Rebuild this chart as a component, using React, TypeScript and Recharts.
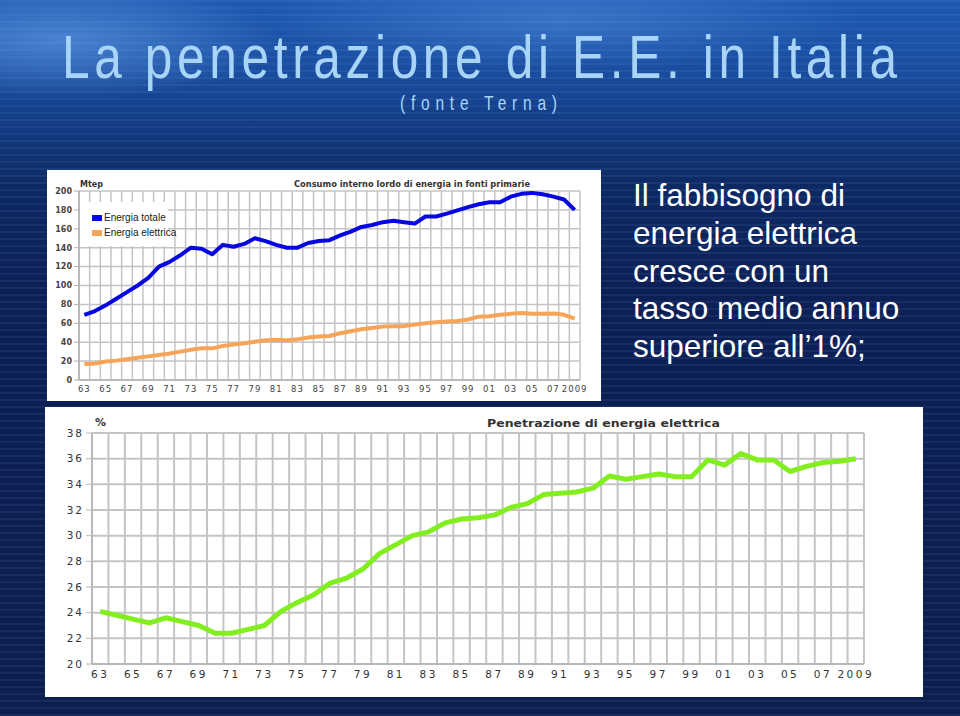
import { LineChart, Line, XAxis, YAxis, CartesianGrid, Legend } from 'recharts';

// anni 1963-2009
const years = [
  1963, 1964, 1965, 1966, 1967, 1968, 1969, 1970, 1971, 1972, 1973, 1974, 1975, 1976, 1977, 1978,
  1979, 1980, 1981, 1982, 1983, 1984, 1985, 1986, 1987, 1988, 1989, 1990, 1991, 1992, 1993, 1994,
  1995, 1996, 1997, 1998, 1999, 2000, 2001, 2002, 2003, 2004, 2005, 2006, 2007, 2008, 2009,
];
const labelYears = [
  1963, 1965, 1967, 1969, 1971, 1973, 1975, 1977, 1979, 1981, 1983, 1985, 1987, 1989, 1991, 1993,
  1995, 1997, 1999, 2001, 2003, 2005, 2007, 2009,
];

// Mtep
const energiaTotale = [
  69, 73, 79, 86, 93, 100, 108, 120, 125, 132, 140, 139, 133, 143, 141, 144, 150, 147, 143, 140,
  140, 145, 147, 148, 153, 157, 162, 164, 167, 168.5, 167, 165.5, 173, 173, 176, 179.5, 183, 186,
  188, 188, 194, 197, 198, 196.5, 194, 191, 180,
];
const energiaElettrica = [
  17, 17.5, 19.5, 20.5, 22, 23.5, 25, 26.5, 28, 30, 32, 33.5, 33.5, 36, 37.5, 39, 40.5, 42, 42.4,
  42, 43, 45, 46, 46.6, 49.5, 51.6, 53.7, 55, 56.5, 57, 57, 58.6, 60, 61, 62, 62.5, 64, 67, 67.5,
  69, 70, 71, 70, 70, 70.3, 69, 65,
];
// %
const penetrazione = [
  24.1, 23.8, 23.5, 23.2, 23.6, 23.3, 23.0, 22.4, 22.4, 22.7, 23.0, 24.1, 24.8, 25.4, 26.3, 26.7,
  27.4, 28.6, 29.3, 30.0, 30.3, 31.0, 31.3, 31.4, 31.6, 32.2, 32.5, 33.2, 33.3, 33.4, 33.7, 34.65,
  34.4, 34.6, 34.8, 34.6, 34.6, 35.9, 35.5, 36.4, 35.9, 35.9, 35.0, 35.4, 35.7, 35.8, 36.0,
];

const topYTicks = [0, 20, 40, 60, 80, 100, 120, 140, 160, 180, 200];
const bottomYTicks = [20, 22, 24, 26, 28, 30, 32, 34, 36, 38];
const legendOrder = ['Energia totale', 'Energia elettrica'];

const paragraph = [
  'Il fabbisogno di',
  'energia elettrica',
  'cresce con un',
  'tasso medio annuo',
  'superiore all\u20191%;',
];

const data = years.map((year, i) => ({
  year,
  totale: energiaTotale[i],
  elettrica: energiaElettrica[i],
  pen: penetrazione[i],
}));

// gridlines sit on the year boundaries, points in the middle
const gridTicks = years.map((y) => y - 0.5).concat([years[years.length - 1] + 0.5]);
const xDomain = [years[0] - 0.5, years[years.length - 1] + 0.5];

const fmtYear = (v: number) => (v === 2009 ? '2009' : String(v).slice(2));

const GRID = '#c4c4c4';
const TICK_FONT = '"DejaVu Sans", Verdana, sans-serif';
const NARROW = '"Liberation Sans Narrow", "Arial Narrow", "Liberation Sans", sans-serif';

const renderLegend = (props: any) => {
  const items = [...(props.payload || [])].sort(
    (a: any, b: any) => legendOrder.indexOf(a.value) - legendOrder.indexOf(b.value)
  );
  return (
    <div style={{ background: '#fff', width: 88, height: 44, boxSizing: 'border-box', padding: '8px 0 0 12px' }}>
      {items.map((e: any) => (
        <div key={e.value} style={{ display: 'flex', alignItems: 'center', height: 15 }}>
          <span style={{ width: 10, height: 6, background: e.color, marginRight: 2, flexShrink: 0 }} />
          <span style={{ fontFamily: NARROW, fontSize: 10, color: '#222', whiteSpace: 'nowrap' }}>{e.value}</span>
        </div>
      ))}
    </div>
  );
};

function TopChart() {
  return (
    <LineChart width={554} height={231} data={data} margin={{ top: 21, right: 21, left: 0, bottom: 0 }}>
      <CartesianGrid xAxisId="g" stroke={GRID} strokeWidth={1.5} />
      <XAxis xAxisId="g" orientation="top" height={0} type="number" dataKey="year" domain={xDomain}
        ticks={gridTicks} interval={0} hide />
      <XAxis
        xAxisId="m"
        type="number"
        dataKey="year"
        domain={xDomain}
        ticks={labelYears}
        interval={0}
        tickFormatter={fmtYear}
        tickLine={false}
        tickSize={4}
        axisLine={{ stroke: '#b0b0b0', strokeWidth: 1.5 }}
        height={21}
        tick={{ fill: '#444', fontSize: 8.5, fontFamily: TICK_FONT, letterSpacing: 1 }}
      />
      <YAxis
        domain={[0, 200]}
        ticks={topYTicks}
        interval={0}
        width={32}
        tickSize={5}
        tickLine={{ stroke: '#b0b0b0' }}
        axisLine={{ stroke: '#b0b0b0', strokeWidth: 1.5 }}
        tick={{ fill: '#444', fontSize: 8, fontFamily: TICK_FONT, fontWeight: 'bold' }}
      />
      <Legend layout="vertical" align="center" verticalAlign="middle" content={renderLegend}
        wrapperStyle={{ left: 33, top: 32, width: 88, height: 44, margin: 0, padding: 0 }} />
      <Line xAxisId="m" type="linear" dataKey="totale" name="Energia totale" stroke="#0606e0" strokeWidth={4}
        dot={false} strokeLinejoin="round" isAnimationActive={false} />
      <Line xAxisId="m" type="linear" dataKey="elettrica" name="Energia elettrica" stroke="#f6a458" strokeWidth={4}
        dot={false} strokeLinejoin="round" isAnimationActive={false} />
    </LineChart>
  );
}

function BottomChart() {
  return (
    <LineChart width={878} height={290} data={data} margin={{ top: 26, right: 59, left: 0, bottom: 0 }}>
      <CartesianGrid xAxisId="g" stroke={GRID} strokeWidth={2} />
      <XAxis xAxisId="g" orientation="top" height={0} type="number" dataKey="year" domain={xDomain}
        ticks={gridTicks} interval={0} hide />
      <XAxis
        xAxisId="m"
        type="number"
        dataKey="year"
        domain={xDomain}
        ticks={labelYears}
        interval={0}
        tickFormatter={fmtYear}
        tickLine={false}
        tickSize={5}
        axisLine={{ stroke: '#b8b8b8', strokeWidth: 2 }}
        height={33}
        tick={{ fill: '#333', fontSize: 10.5, fontFamily: TICK_FONT, letterSpacing: 2.5 }}
      />
      <YAxis
        domain={[20, 38]}
        ticks={bottomYTicks}
        interval={0}
        width={47}
        tickSize={6}
        tickLine={{ stroke: '#b8b8b8' }}
        axisLine={{ stroke: '#b8b8b8', strokeWidth: 2 }}
        tick={{ fill: '#333', fontSize: 10.5, fontFamily: TICK_FONT, letterSpacing: 2 }}
      />
      <Line xAxisId="m" type="linear" dataKey="pen" name="Penetrazione" stroke="#82ee20" strokeWidth={5}
        dot={false} strokeLinejoin="round" isAnimationActive={false} />
    </LineChart>
  );
}

export default function App() {
  return (
    <div
      style={{
        position: 'absolute',
        left: 0,
        top: 0,
        width: 960,
        height: 716,
        overflow: 'hidden',
        background:
          'repeating-linear-gradient(180deg, rgba(120,160,230,0.10) 0px, rgba(120,160,230,0.10) 2px, rgba(0,0,0,0) 2px, rgba(0,0,0,0) 7px),' +
          'radial-gradient(ellipse 220px 60px at 60px 40px, rgba(110,170,240,0.55), rgba(0,0,0,0)),' +
          'radial-gradient(ellipse 300px 50px at 560px 20px, rgba(90,150,230,0.45), rgba(0,0,0,0)),' +
          'linear-gradient(180deg, #1d5ab2 0%, #1a4d9f 10%, #123a80 18%, #0d2963 26%, #0c2056 40%, #0d1d4c 100%)',
      }}
    >
      <div style={{ position: 'absolute', left: 47, top: 170, width: 554, height: 231, background: '#fff' }}>
        <TopChart />
      </div>
      <div style={{ position: 'absolute', left: 45, top: 407, width: 878, height: 290, background: '#fff' }}>
        <BottomChart />
      </div>
      <svg width={960} height={716} style={{ position: 'absolute', left: 0, top: 0, pointerEvents: 'none' }}>
        <text transform="translate(62 77.5) scale(0.8 1)" x={0} y={0} fontSize={62} textLength={835 / 0.8}
          lengthAdjust="spacing" fill="#a8d5f7" fontFamily={NARROW}>
          La penetrazione di E.E. in Italia
        </text>
        <text transform="translate(400 109.5) scale(0.78 1)" x={0} y={0} fontSize={20} textLength={157 / 0.78}
          lengthAdjust="spacing" fill="#a8d5f7" fontFamily={NARROW}>
          (fonte Terna)
        </text>
        {paragraph.map((line, i) => (
          <text key={line} x={633} y={206 + i * 37.8} fontSize={31.5} fill="#ffffff"
            fontFamily={'"Liberation Sans", Arial, sans-serif'}>
            {line}
          </text>
        ))}
        <text x={80} y={187} fontSize={8} fontWeight="bold" fill="#333" fontFamily={TICK_FONT}>Mtep</text>
        <text x={294} y={187} fontSize={8} fontWeight="bold" fill="#333" fontFamily={TICK_FONT}
          textLength={236} lengthAdjust="spacingAndGlyphs">
          Consumo interno lordo di energia in fonti primarie
        </text>
        <text x={95} y={426} fontSize={11} fontWeight="bold" fill="#333" fontFamily={TICK_FONT}>%</text>
        <text x={487} y={427} fontSize={10.5} fontWeight="bold" fill="#333" fontFamily={TICK_FONT}
          textLength={233} lengthAdjust="spacingAndGlyphs">
          Penetrazione di energia elettrica
        </text>
      </svg>
    </div>
  );
}
